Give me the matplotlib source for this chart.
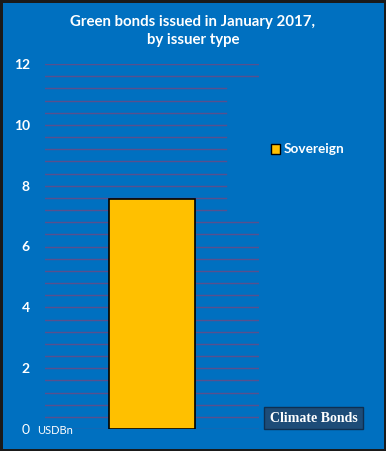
import matplotlib
matplotlib.use("Agg")
import matplotlib.pyplot as plt
import numpy as np
from matplotlib.patches import Rectangle

categories = ["Sovereign"]
values = [7.55]
yticks = [0, 2, 4, 6, 8, 10, 12]
ytick_labels = ["0", "2", "4", "6", "8", "10", "12"]
title = "Green bonds issued in January 2017,\nby issuer type"
unit = "USDBn"

BG = "#0070C0"
BAR = "#FFC000"
GRID = "#58508e"
FONT = ["Lato", "DejaVu Sans"]

fig = plt.figure(figsize=(3.86, 4.51), dpi=100)
fig.patch.set_facecolor(BG)
fig.patch.set_edgecolor("#1a1a1a")
fig.patch.set_linewidth(2.5)

ax = fig.add_axes([45/386, 1-429/451, 214/386, (429-64)/451])
ax.set_facecolor(BG)
ax.set_xlim(-0.5, 0.5)
ax.set_ylim(0, 12)

# decorative grid every 0.4
for g in np.arange(0, 12.01, 0.4):
    xmax = 0.846 if 7.0 < g < 11.4 else 1.0
    ax.axhline(g, xmin=0, xmax=xmax, color=GRID, lw=1.0, zorder=1)

ax.bar([0], values, width=0.405, color=BAR, edgecolor="black", lw=1.2, zorder=3)

for s in ax.spines.values():
    s.set_visible(False)
ax.set_xticks([])
ax.set_yticks(yticks)
ax.set_yticklabels(ytick_labels)
ax.tick_params(axis="y", length=0, pad=11, colors="white", labelsize=10)
for lab in ax.get_yticklabels():
    lab.set_fontfamily(FONT)
    lab.set_fontweight("bold" if lab.get_text() != "0" else "normal")

fig.text(37/386, 1-431/451, unit, color="white", fontsize=8, family=FONT,
         va="center", ha="left")

fig.text(0.5, 1-31/451, title, color="white", fontsize=10.8, fontweight="bold",
         family=FONT, ha="center", va="center", linespacing=1.45)

# legend
fig.patches.append(Rectangle((271/386, 1-154/451), 9/386, 10/451,
                             transform=fig.transFigure, facecolor=BAR,
                             edgecolor="black", lw=1.0))
fig.text(284/386, 1-149/451, categories[0], color="white", fontsize=9.8,
         fontweight="bold", family=FONT, va="center", ha="left")

# logo
fig.patches.append(Rectangle((264/386, 1-429/451), 99/386, 22/451,
                             transform=fig.transFigure, facecolor="#1d4c78",
                             edgecolor="#0f2f50", lw=1.0))
fig.text(313.5/386, 1-418.5/451, "Climate Bonds", color="white", fontsize=10,
         fontweight="bold", family=["Liberation Serif", "DejaVu Serif"],
         ha="center", va="center")

fig.savefig("out.png", dpi=100, facecolor=fig.get_facecolor(),
            edgecolor=fig.get_edgecolor())
